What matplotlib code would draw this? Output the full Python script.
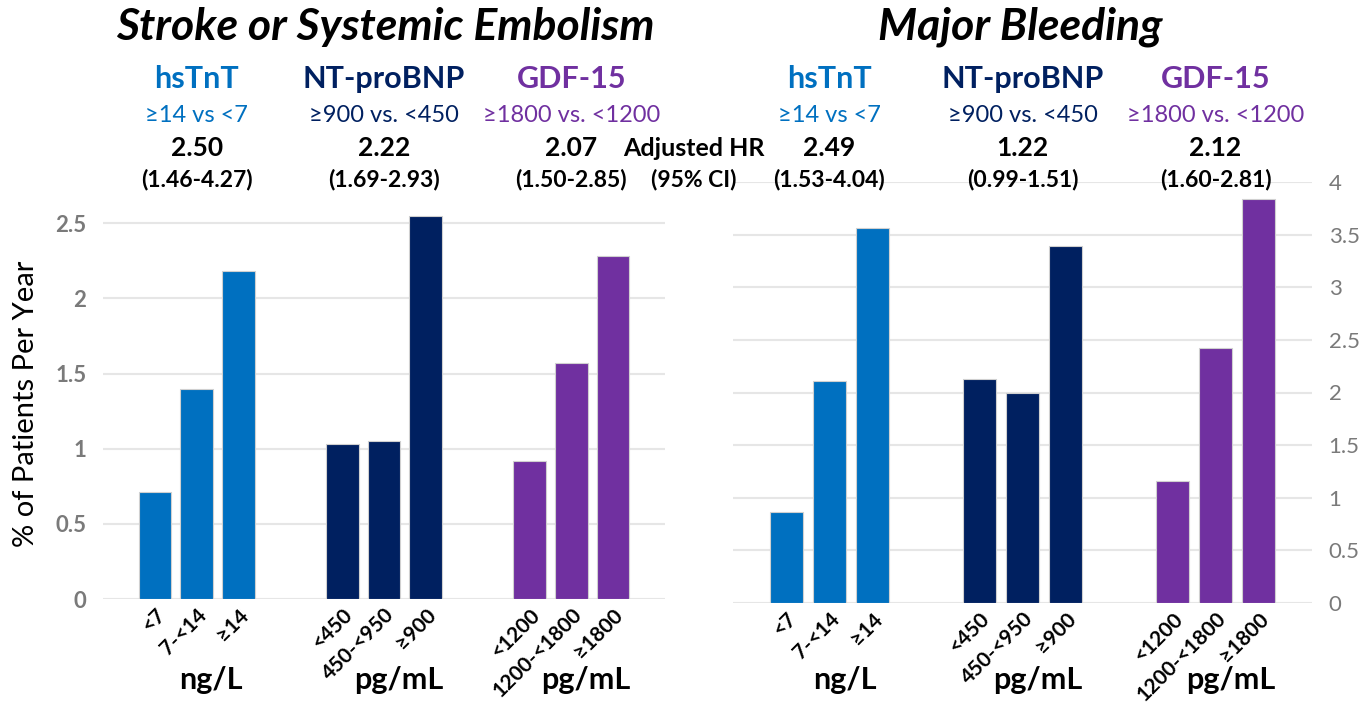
import numpy as np
import matplotlib
matplotlib.use("Agg")
import matplotlib.pyplot as plt
import matplotlib.transforms as mtransforms

plt.rcParams['font.family'] = ['Lato', 'DejaVu Sans']

# 数据
markers = ["hsTnT", "NT-proBNP", "GDF-15"]
cutoffs = ["≥14 vs <7", "≥900 vs. <450", "≥1800 vs. <1200"]
units = ["ng/L", "pg/mL", "pg/mL"]
cat_labels = [["<7", "7-<14", "≥14"],
              ["<450", "450-<950", "≥900"],
              ["<1200", "1200-<1800", "≥1800"]]
colors = ["#0070C0", "#002060", "#7030A0"]

stroke_vals = [[0.71, 1.40, 2.18], [1.03, 1.05, 2.55], [0.92, 1.57, 2.28]]
stroke_hr = ["2.50", "2.22", "2.07"]
stroke_ci = ["(1.46-4.27)", "(1.69-2.93)", "(1.50-2.85)"]

bleed_vals = [[0.86, 2.11, 3.56], [2.13, 2.00, 3.39], [1.16, 2.42, 3.84]]
bleed_hr = ["2.49", "1.22", "2.12"]
bleed_ci = ["(1.53-4.04)", "(0.99-1.51)", "(1.60-2.81)"]

gap = 4.5  # 组间距
W, H = 1368, 703
fig = plt.figure(figsize=(W / 100, H / 100), dpi=100)


def draw_panel(rect, vals, hr, ci, title, title_x, ylim, yticks, right):
    ax = fig.add_axes(rect)
    ticks, labels = [], []
    for g in range(3):
        xs = [g * gap + i for i in range(3)]
        ax.bar(xs, vals[g], width=0.78, color=colors[g], edgecolor="#d0d0d0",
               linewidth=0.8, zorder=3)
        ticks += xs
        labels += cat_labels[g]
    ax.set_xlim(-1.25, 2 * gap + 2 + 1.25)
    ax.set_ylim(*ylim)
    ax.set_yticks(yticks)
    ax.set_yticklabels([f"{t:g}" for t in yticks])
    ax.grid(axis="y", color="#e6e6e6", linewidth=1.5, zorder=0)
    for s in ax.spines.values():
        s.set_visible(False)
    ax.tick_params(length=0)
    ax.tick_params(axis="y", labelsize=16, labelcolor="#7a7a7a", pad=12)
    for lb in ax.get_yticklabels():
        lb.set_fontweight("bold")
    if right:
        ax.yaxis.tick_right()
    ax.set_xticks(ticks)
    ax.set_xticklabels(labels, rotation=45, ha="right", rotation_mode="anchor",
                       fontsize=15, fontweight="bold")
    ax.tick_params(axis="x", pad=4)

    # 上方文字
    tr = mtransforms.blended_transform_factory(ax.transData, fig.transFigure)
    for g in range(3):
        xc = g * gap + 1
        ax.text(xc, 1 - 79 / H, markers[g], transform=tr, ha="center", va="center",
                fontsize=22, fontweight="bold", color=colors[g])
        ax.text(xc, 1 - 115 / H, cutoffs[g], transform=tr, ha="center", va="center",
                fontsize=17, color=colors[g])
        ax.text(xc, 1 - 148 / H, hr[g], transform=tr, ha="center", va="center",
                fontsize=19, fontweight="bold", color="black")
        ax.text(xc, 1 - 180 / H, ci[g], transform=tr, ha="center", va="center",
                fontsize=16.5, fontweight="bold", color="black")
        ax.text(xc + 0.35, 1 - 680 / H, units[g], transform=tr, ha="center",
                va="center", fontsize=22, fontweight="bold", color="black")
    fig.text(title_x / W, 1 - 27 / H, title, ha="center", va="center",
             fontsize=32, fontweight="bold", fontstyle="italic")
    return ax


ax1 = draw_panel([103 / W, 1 - 599 / H, 562 / W, 2.6 * 150.3 / H],
                 stroke_vals, stroke_hr, stroke_ci,
                 "Stroke or Systemic Embolism", 385, (0, 2.6),
                 [0, 0.5, 1, 1.5, 2, 2.5], False)
ax2 = draw_panel([733 / W, 1 - 603 / H, 579 / W, 421 / H],
                 bleed_vals, bleed_hr, bleed_ci,
                 "Major Bleeding", 1020, (0, 4),
                 [0, 0.5, 1, 1.5, 2, 2.5, 3, 3.5, 4], True)

ax1.set_ylabel("% of Patients Per Year", fontsize=21, labelpad=12)

fig.text(694 / W, 1 - 148 / H, "Adjusted HR", ha="center", va="center",
         fontsize=18, fontweight="bold")
fig.text(694 / W, 1 - 180 / H, "(95% CI)", ha="center", va="center",
         fontsize=16.5, fontweight="bold")

fig.savefig("out.png", dpi=100)
